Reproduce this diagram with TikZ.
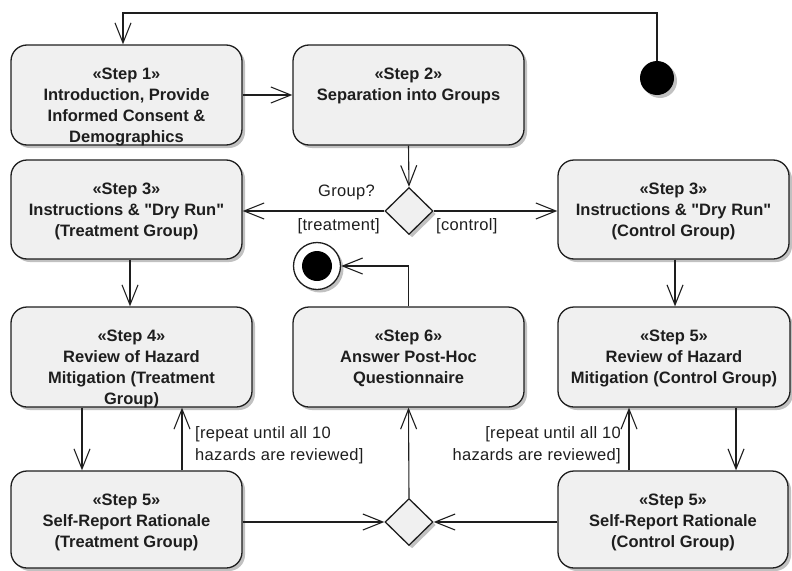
\documentclass[tikz,border=0pt]{standalone}
\usepackage{fontspec}
\setmainfont{Liberation Sans}[Ligatures=TeXOff]
\newfontfamily\guardfont{Liberation Sans}[Ligatures=TeXOff,LetterSpace=2]
\usetikzlibrary{arrows.meta,shapes.geometric,shadows}
\definecolor{actfill}{HTML}{F0F0F0}
\definecolor{ink}{HTML}{1E1E1E}
% text block of an action box: top aligned, fixed height
\newcommand\acttext[3]{\parbox[t][#2][t]{#1}{\centering\fontsize{16.5}{21}\selectfont\bfseries\rule{0pt}{34pt}#3}}
\begin{document}
\begin{tikzpicture}[x=1pt,y=-1pt,
  softshadow/.style={drop shadow={shadow xshift=3pt,shadow yshift=-3pt,fill=black!30,opacity=.8}},
  act/.style={draw=ink,line width=1.3pt,rounded corners=16pt,fill=actfill,inner sep=0pt,text=ink,softshadow},
  dec/.style={diamond,draw=ink,line width=1.3pt,fill=actfill,inner sep=0pt,minimum width=48pt,minimum height=47pt,softshadow},
  guard/.style={inner sep=0pt,text=ink,font=\guardfont\fontsize{16.5}{22}\selectfont},
  flow/.style={draw=ink,line width=1.1pt,-{Straight Barb[length=20pt,width=16pt,line width=1.1pt]}}]
\useasboundingbox (0,0) rectangle (792,570);

% start and end
\node[circle,fill=black,minimum size=34pt,inner sep=0pt,softshadow] (init) at (657,78) {};
\node[circle,draw=ink,line width=1.3pt,fill=white,minimum size=47pt,inner sep=0pt,softshadow] (fin) at (317,266) {};
\node[circle,fill=black,minimum size=30pt,inner sep=0pt] (fincore) at (fin) {};

% actions
\node[act] (s1) at (126.5,95) {\acttext{231pt}{100pt}{«Step 1»\\Introduction, Provide\\Informed Consent \&\\Demographics}};
\node[act] (s2) at (408.5,95) {\acttext{231pt}{100pt}{«Step 2»\\Separation into Groups}};
\node[act] (s3t) at (126.5,209.5) {\acttext{231pt}{99pt}{«Step 3»\\Instructions \& "Dry Run"\\(Treatment Group)}};
\node[act] (s3c) at (673.5,209.5) {\acttext{231pt}{99pt}{«Step 3»\\Instructions \& "Dry Run"\\(Control Group)}};
\node[act] (s4) at (131.5,357) {\acttext{241pt}{100pt}{«Step 4»\\Review of Hazard\\Mitigation (Treatment\\Group)}};
\node[act] (s6) at (408.5,357) {\acttext{231pt}{100pt}{«Step 6»\\Answer Post-Hoc\\Questionnaire}};
\node[act] (s5cr) at (674,357) {\acttext{232pt}{100pt}{«Step 5»\\Review of Hazard\\Mitigation (Control Group)}};
\node[act] (s5t) at (126.5,519.5) {\acttext{231pt}{97pt}{«Step 5»\\Self-Report Rationale\\(Treatment Group)}};
\node[act] (s5c) at (673,519.5) {\acttext{230pt}{97pt}{«Step 5»\\Self-Report Rationale\\(Control Group)}};

% decisions / merge
\node[dec] (d1) at (409,211) {};
\node[dec] (d2) at (409,522) {};

% guards
\node[guard,anchor=east] (gq) at (375,192) {Group?};
\node[guard,anchor=east] (gt) at (380,226) {[treatment]};
\node[guard,anchor=west] (gc) at (436,226) {[control]};
\node[guard,anchor=north west,align=left] (rt) at (195,426) {[repeat until all 10\\hazards are reviewed]};
\node[guard,anchor=north east,align=right] (rc) at (621,426) {[repeat until all 10\\hazards are reviewed]};

% flows
\coordinate (loop) at (0,13);
\coordinate (s1in) at ([xshift=-3.5pt]s1.north);
\draw[flow] (init.north) |- (loop -| s1in) -- (s1in);
\draw[flow] (s1.east) -- (s2.west);
\draw[flow] (s2.south) -- (d1.north);
\draw[flow] (d1.west) -- (d1.west -| s3t.east);
\draw[flow] (d1.east) -- (d1.east -| s3c.west);
\draw[flow] ([xshift=3.5pt]s3t.south) -- ([xshift=3.5pt]s3t.south |- s4.north);
\draw[flow] ([xshift=1.5pt]s3c.south) -- ([xshift=1.5pt]s3c.south |- s5cr.north);
\draw[flow] ([xshift=-49.5pt]s4.south) -- ([xshift=-49.5pt]s4.south |- s5t.north);
\draw[flow] ([xshift=55.5pt]s5t.north) -- ([xshift=55.5pt]s5t.north |- s4.south);
\draw[flow] ([xshift=62pt]s5cr.south) -- ([xshift=62pt]s5cr.south |- s5c.north);
\draw[flow] ([xshift=-44pt]s5c.north) -- ([xshift=-44pt]s5c.north |- s5cr.south);
\draw[flow] (d2.west -| s5t.east) -- (d2.west);
\draw[flow] (d2.east -| s5c.west) -- (d2.east);
\draw[flow] (d2.north) -- (s6.south);
\draw[flow] (s6.north) |- (fin.east);
\end{tikzpicture}
\end{document}
